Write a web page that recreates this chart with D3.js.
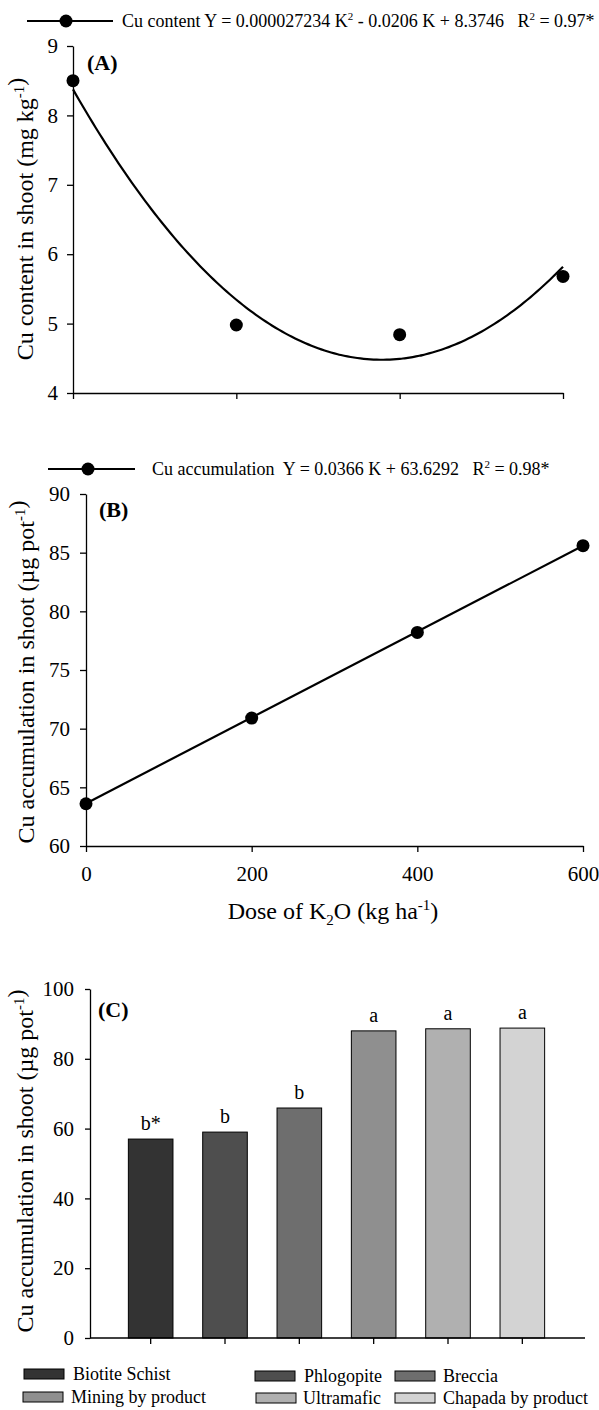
<!DOCTYPE html>
<html><head><meta charset="utf-8">
<script src="https://cdn.jsdelivr.net/npm/d3@7"></script>
<style>
body{margin:0;background:#fff}
svg text{font-family:"Liberation Serif","Times New Roman",serif;fill:#000}
</style>
</head><body>
<svg id="chart" width="599" height="1410"></svg>
<script>
// ---------- data ----------
const doseK = [0, 200, 400, 600];
const cuContent = [8.50, 4.98, 4.84, 5.68];
const cuContentFit = [0.000027234, -0.0206, 8.3746];   // a K^2 + b K + c
const cuAccum = [63.6, 70.9, 78.2, 85.6];
const cuAccumFit = [0.0366, 63.6292];                  // m K + b
const sources = ["Biotite Schist", "Phlogopite", "Breccia", "Mining by product", "Ultramafic", "Chapada by product"];
const sourceAccum = [57.0, 59.0, 65.9, 88.0, 88.6, 88.8];
const sourceLetters = ["b*", "b", "b", "a", "a", "a"];
const sourceColors = ["#333333", "#4e4e4e", "#6e6e6e", "#8f8f8f", "#b0b0b0", "#d3d3d3"];
const ticksA = [4, 5, 6, 7, 8, 9];
const ticksB = [60, 65, 70, 75, 80, 85, 90];
const ticksC = [0, 20, 40, 60, 80, 100];
const ticksX = [0, 200, 400, 600];

const svg = d3.select("#chart");
const TICK_FS = 21, TITLE_FS = 24, LEG_FS = 18;
const fmtInt = d3.format("d");

function styleAxis(g) {
  g.selectAll(".domain").attr("stroke", "#000").attr("stroke-width", 1.3);
  g.selectAll(".tick line").attr("stroke", "#000").attr("stroke-width", 1.3);
  g.selectAll(".tick text").attr("font-size", TICK_FS).attr("fill", "#000")
    .attr("font-family", '"Liberation Serif","Times New Roman",serif');
  g.attr("font-family", null);
}

// rotated y title with superscript
function yTitle(x, y, parts) {
  const t = svg.append("text").attr("transform", `translate(${x},${y}) rotate(-90)`)
    .attr("text-anchor", "middle").attr("font-size", TITLE_FS);
  parts.forEach(p => {
    if (p.sup) {
      t.append("tspan").attr("dy", -9).attr("font-size", TITLE_FS * 0.62).text(p.sup);
      t.append("tspan").attr("dy", 9).text("");
    } else t.append("tspan").text(p.t);
  });
  return t;
}

// ---------- Panel A ----------
const xA = d3.scaleLinear().domain([0, 600]).range([73, 563]);
const yA = d3.scaleLinear().domain([4, 9]).range([393, 46]);

svg.append("g").attr("transform", `translate(0,${yA(4)})`)
  .call(d3.axisBottom(xA).tickValues(ticksX).tickFormat("").tickSize(6).tickSizeOuter(0))
  .call(styleAxis);
svg.append("g").attr("transform", `translate(${xA(0)},0)`)
  .call(d3.axisLeft(yA).tickValues(ticksA).tickFormat(fmtInt).tickSize(6).tickPadding(9).tickSizeOuter(0))
  .call(styleAxis);

const fitA = d3.range(0, 601, 4).map(k => [k, cuContentFit[0] * k * k + cuContentFit[1] * k + cuContentFit[2]]);
svg.append("path").datum(fitA)
  .attr("d", d3.line().x(d => xA(d[0])).y(d => yA(d[1])).curve(d3.curveMonotoneX))
  .attr("fill", "none").attr("stroke", "#000").attr("stroke-width", 2.2);
svg.append("g").selectAll("circle").data(doseK).join("circle")
  .attr("cx", (d) => xA(d)).attr("cy", (d, i) => yA(cuContent[i])).attr("r", 6.5).attr("fill", "#000");

svg.append("text").attr("x", 87).attr("y", 70).attr("font-size", 22).attr("font-weight", "bold").text("(A)");
yTitle(33, 219, [{t: "Cu content in shoot (mg kg"}, {sup: "-1"}, {t: ")"}]);

// legend A
svg.append("line").attr("x1", 27).attr("x2", 113).attr("y1", 21).attr("y2", 21).attr("stroke", "#000").attr("stroke-width", 2.2);
svg.append("circle").attr("cx", 66).attr("cy", 21).attr("r", 6.5).attr("fill", "#000");
{
  const t = svg.append("text").attr("x", 122).attr("y", 27).attr("font-size", LEG_FS).attr("xml:space", "preserve");
  t.append("tspan").text("Cu content Y = 0.000027234 K");
  t.append("tspan").attr("dy", -7).attr("font-size", 11).text("2");
  t.append("tspan").attr("dy", 7).text(" - 0.0206 K + 8.3746   R");
  t.append("tspan").attr("dy", -7).attr("font-size", 11).text("2");
  t.append("tspan").attr("dy", 7).text(" = 0.97*");
}

// ---------- Panel B ----------
const xB = d3.scaleLinear().domain([0, 600]).range([86, 583]);
const yB = d3.scaleLinear().domain([60, 90]).range([846, 494]);

svg.append("g").attr("transform", `translate(0,${yB(60)})`)
  .call(d3.axisBottom(xB).tickValues(ticksX).tickFormat(fmtInt).tickSize(6).tickPadding(14).tickSizeOuter(0))
  .call(styleAxis);
svg.append("g").attr("transform", `translate(${xB(0)},0)`)
  .call(d3.axisLeft(yB).tickValues(ticksB).tickFormat(fmtInt).tickSize(6).tickPadding(10).tickSizeOuter(0))
  .call(styleAxis);

const fitB = [0, 600].map(k => [k, cuAccumFit[0] * k + cuAccumFit[1]]);
svg.append("path").datum(fitB)
  .attr("d", d3.line().x(d => xB(d[0])).y(d => yB(d[1])))
  .attr("fill", "none").attr("stroke", "#000").attr("stroke-width", 2.2);
svg.append("g").selectAll("circle").data(doseK).join("circle")
  .attr("cx", d => xB(d)).attr("cy", (d, i) => yB(cuAccum[i])).attr("r", 6.5).attr("fill", "#000");

svg.append("text").attr("x", 99).attr("y", 517).attr("font-size", 22).attr("font-weight", "bold").text("(B)");
yTitle(34, 672, [{t: "Cu accumulation in shoot (µg pot"}, {sup: "-1"}, {t: ")"}]);

// legend B
svg.append("line").attr("x1", 48).attr("x2", 135).attr("y1", 469).attr("y2", 469).attr("stroke", "#000").attr("stroke-width", 2.2);
svg.append("circle").attr("cx", 88).attr("cy", 469).attr("r", 6.5).attr("fill", "#000");
{
  const t = svg.append("text").attr("x", 152).attr("y", 475).attr("font-size", LEG_FS).attr("xml:space", "preserve");
  t.append("tspan").text("Cu accumulation  Y = 0.0366 K + 63.6292   R");
  t.append("tspan").attr("dy", -7).attr("font-size", 11).text("2");
  t.append("tspan").attr("dy", 7).text(" = 0.98*");
}

// x title
{
  const t = svg.append("text").attr("x", 333).attr("y", 919).attr("text-anchor", "middle").attr("font-size", TITLE_FS);
  t.append("tspan").text("Dose of K");
  t.append("tspan").attr("dy", 6).attr("font-size", 15).text("2");
  t.append("tspan").attr("dy", -6).text("O (kg ha");
  t.append("tspan").attr("dy", -9).attr("font-size", 15).text("-1");
  t.append("tspan").attr("dy", 9).text(")");
}

// ---------- Panel C ----------
const xC = d3.scaleBand().domain(sources).range([113.5, 559.5]).paddingInner(0.4).paddingOuter(0.2);
const yC = d3.scaleLinear().domain([0, 100]).range([1338, 989]);

svg.append("g").selectAll("rect").data(sources).join("rect")
  .attr("x", d => xC(d)).attr("width", xC.bandwidth())
  .attr("y", (d, i) => yC(sourceAccum[i])).attr("height", (d, i) => yC(0) - yC(sourceAccum[i]))
  .attr("fill", (d, i) => sourceColors[i]).attr("stroke", "#000").attr("stroke-width", 1);

svg.append("g").selectAll("text").data(sources).join("text")
  .attr("x", d => xC(d) + xC.bandwidth() / 2).attr("y", (d, i) => yC(sourceAccum[i]) - 9)
  .attr("text-anchor", "middle").attr("font-size", 20).text((d, i) => sourceLetters[i]);

svg.append("g").attr("transform", `translate(0,${yC(0)})`)
  .call(d3.axisBottom(xC).tickFormat("").tickSize(6).tickSizeOuter(0))
  .call(g => g.select(".domain").attr("d", "M90,0H585"))
  .call(styleAxis);
svg.append("g").attr("transform", `translate(90,0)`)
  .call(d3.axisLeft(yC).tickValues(ticksC).tickFormat(fmtInt).tickSize(5).tickPadding(11).tickSizeOuter(0))
  .call(styleAxis);

svg.append("text").attr("x", 98).attr("y", 1017).attr("font-size", 22).attr("font-weight", "bold").text("(C)");
yTitle(33, 1161, [{t: "Cu accumulation in shoot (µg pot"}, {sup: "-1"}, {t: ")"}]);

// legend C
const legPos = [
  {sx: 24, tx: 73, y: 1380}, {sx: 255, tx: 304, y: 1382}, {sx: 395, tx: 443, y: 1382},
  {sx: 23, tx: 71, y: 1403}, {sx: 256, tx: 303, y: 1404}, {sx: 395, tx: 443, y: 1404}
];
const leg = svg.append("g").selectAll("g").data(sources).join("g");
leg.append("rect").attr("x", (d, i) => legPos[i].sx).attr("y", (d, i) => legPos[i].y - 11)
  .attr("width", 40).attr("height", 10).attr("fill", (d, i) => sourceColors[i]).attr("stroke", "#000").attr("stroke-width", 1);
leg.append("text").attr("x", (d, i) => legPos[i].tx).attr("y", (d, i) => legPos[i].y)
  .attr("font-size", LEG_FS).text(d => d);
</script>
</body></html>
